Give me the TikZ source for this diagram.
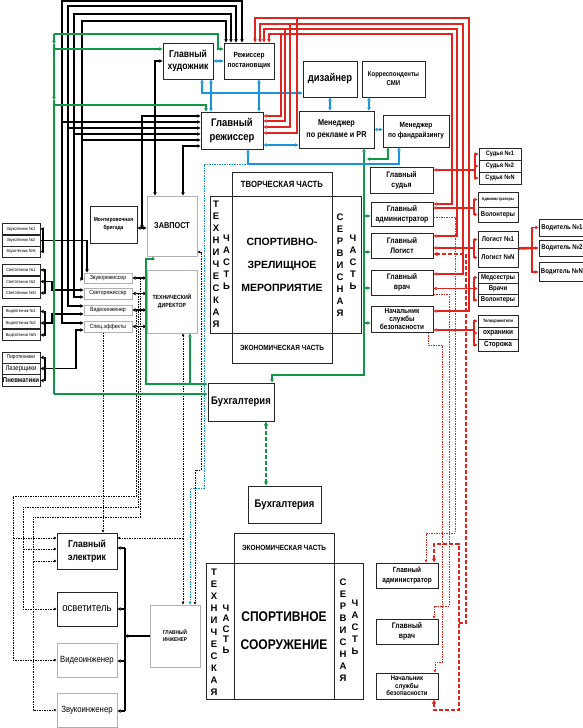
\documentclass[tikz,border=0pt]{standalone}
\usepackage{fontspec}
\setmainfont{Liberation Sans}[FakeStretch=0.86]
\newfontfamily\wide{Liberation Sans}
\usetikzlibrary{arrows.meta}
\definecolor{rd}{RGB}{226,36,30}
\definecolor{bl}{RGB}{22,150,220}
\definecolor{gn}{RGB}{18,150,72}
\newcommand{\fsz}[2]{\fontsize{#1}{#2}\selectfont}

\begin{document}
\begin{tikzpicture}[x=1pt,y=-1pt,
  box/.style={draw=black!85, line width=1pt, align=center, inner sep=0.5pt, font=\bfseries},
  gbox/.style={box, draw=black!30},
  vt/.style={align=center, inner sep=0pt, font=\wide\bfseries\fsz{9.5}{12}},
  ln/.style={line width=1.3pt, >={Triangle[length=3.2pt,width=3.4pt]}},
  blk/.style={ln, black},
  rdl/.style={ln, rd},
  bll/.style={ln, bl},
  gnl/.style={ln, gn},
  dsh/.style={line width=0.6pt, dash pattern=on 1.5pt off 1pt, >={Triangle[length=2.6pt,width=2.6pt]}},
  rdd/.style={rd, line width=1.8pt, dash pattern=on 4pt off 2pt, >={Triangle[length=4pt,width=4pt]}}]
\path[use as bounding box, fill=white] (0,0) rectangle (583,728);

\node[box, minimum width=50, minimum height=36, font=\bfseries\fsz{10}{12}] (gh) at (188,61) {Главный\\художник};
\node[box, minimum width=50, minimum height=36, font=\bfseries\fsz{7.5}{10}] (rp) at (249,61) {Режиссер\\постановщик};
\node[box, minimum width=54, minimum height=36, font=\bfseries\fsz{11}{13}] (dz) at (330,79) {дизайнер};
\node[box, minimum width=63, minimum height=36, font=\bfseries\fsz{7}{9}] (smi) at (393.5,79) {Корреспонденты\\СМИ};
\node[box, minimum width=62, minimum height=37, font=\bfseries\fsz{11}{14}] (gr) at (232,130.5) {Главный\\режиссер};
\node[box, minimum width=75, minimum height=37, font=\bfseries\fsz{8.5}{12}] (mpr) at (336.5,129.5) {Менеджер\\по рекламе и PR};
\node[box, minimum width=66, minimum height=32, font=\bfseries\fsz{7.5}{10}] (mf) at (416,131) {Менеджер\\по фандрайзингу};
\node[box, minimum width=63, minimum height=26, font=\bfseries\fsz{8}{10}] (gs) at (401.5,180) {Главный\\судья};
\node[box, minimum width=42, minimum height=12, font=\bfseries\fsz{6.5}{7}] (s1) at (500,154) {Судья №1};
\node[box, minimum width=42, minimum height=12, font=\bfseries\fsz{6.5}{7}] (s2) at (500,166) {Судья №2};
\node[box, minimum width=42, minimum height=12, font=\bfseries\fsz{6.5}{7}] (sN) at (500,178) {Судья №N};

\node[box, minimum width=100, minimum height=24, font=\bfseries\fsz{9}{10}] (tvor) at (282,184) {ТВОРЧЕСКАЯ ЧАСТЬ};
\node[box, minimum width=100, minimum height=137, font=\wide\bfseries\fsz{10.5}{23}] (sz) at (282,264.5) {СПОРТИВНО-\\ЗРЕЛИЩНОЕ\\МЕРОПРИЯТИЕ};
\node[box, minimum width=22, minimum height=137] (tech) at (221,264.5) {};
\node[box, minimum width=29, minimum height=137] (serv) at (346.5,264.5) {};
\node[box, minimum width=100, minimum height=30, font=\bfseries\fsz{7.5}{9}] (ekon) at (282,348) {ЭКОНОМИЧЕСКАЯ ЧАСТЬ};
\node[vt] (techa) at (216,264) {Т\\Е\\Х\\Н\\И\\Ч\\Е\\С\\К\\А\\Я};
\node[vt] (techb) at (226.5,262) {Ч\\А\\С\\Т\\Ь};
\node[vt] (serva) at (340,265) {С\\Е\\Р\\В\\И\\С\\Н\\А\\Я};
\node[vt] (servb) at (353,262) {Ч\\А\\С\\Т\\Ь};

\node[box, minimum width=62, minimum height=24, font=\bfseries\fsz{8}{10}] (ga) at (402,214) {Главный\\администратор};
\node[box, minimum width=62, minimum height=25, font=\bfseries\fsz{8}{10}] (gl) at (402,245.5) {Главный\\Логист};
\node[box, minimum width=62, minimum height=25, font=\bfseries\fsz{8}{10}] (gv) at (402,282.5) {Главный\\врач};
\node[box, minimum width=62, minimum height=26, font=\bfseries\fsz{7.5}{8}] (nb) at (402,319) {Начальник\\службы\\безопасности};

\node[box, minimum width=40, minimum height=15, font=\bfseries\fsz{4.3}{5}] (adm) at (498,199.5) {Администраторы};
\node[box, minimum width=40, minimum height=15, font=\bfseries\fsz{7}{8}] (vol1) at (498,214.5) {Волонтеры};
\node[box, minimum width=40, minimum height=17, font=\bfseries\fsz{7}{8}] (lg1) at (498,239.5) {Логист №1};
\node[box, minimum width=40, minimum height=19, font=\bfseries\fsz{7}{8}] (lgN) at (498,257.5) {Логист №N};
\node[box, minimum width=40, minimum height=11, font=\bfseries\fsz{7}{8}] (med) at (498,277.5) {Медсестры};
\node[box, minimum width=40, minimum height=11, font=\bfseries\fsz{7}{8}] (vr) at (498,288.5) {Врачи};
\node[box, minimum width=40, minimum height=12, font=\bfseries\fsz{7}{8}] (vol2) at (498,300) {Волонтеры};
\node[box, minimum width=40, minimum height=12, font=\bfseries\fsz{4.6}{5}] (tel) at (498,321) {Телохранители};
\node[box, minimum width=40, minimum height=12, font=\bfseries\fsz{7.5}{8}] (ohr) at (498,333) {охраники};
\node[box, minimum width=40, minimum height=12, font=\bfseries\fsz{7.5}{8}] (stor) at (498,345) {Сторожа};
\node[box, minimum width=46, minimum height=17, font=\bfseries\fsz{7}{8}] (vd1) at (562,227.5) {Водитель №1};
\node[box, minimum width=46, minimum height=16, font=\bfseries\fsz{7}{8}] (vd2) at (562,248) {Водитель №2};
\node[box, minimum width=46, minimum height=19, font=\bfseries\fsz{7}{8}] (vdN) at (562,272) {Водитель №N};

\node[box, minimum width=47, minimum height=37, font=\bfseries\fsz{5.8}{8}] (mb) at (113.5,224.5) {Монтировочная\\бригада};
\node[gbox, minimum width=50, minimum height=60, font=\bfseries\fsz{8.5}{10}] (zp) at (172,226) {ЗАВПОСТ};
\node[gbox, minimum width=50, minimum height=63, font=\bfseries\fsz{6}{8}] (td) at (172,301.5) {ТЕХНИЧЕСКИЙ\\ДИРЕКТОР};
\node[gbox, minimum width=48, minimum height=10, font=\fsz{6}{7}] (zr) at (108,278) {Звукорежиссер};
\node[gbox, minimum width=48, minimum height=11, font=\fsz{6}{7}] (sr) at (108,293.5) {Светорежиссер};
\node[gbox, minimum width=48, minimum height=10, font=\fsz{6}{7}] (vi) at (108,310) {Видеоинженер};
\node[gbox, minimum width=48, minimum height=11, font=\fsz{6}{7}] (se) at (108,326.5) {Спец.эффекты};
\node[box, minimum width=38, minimum height=11, font=\fsz{4.4}{5}] (zt1) at (21,229) {Звукотехник №1};
\node[box, minimum width=38, minimum height=11, font=\fsz{4.4}{5}] (zt2) at (21,240.5) {Звукотехник №2};
\node[box, minimum width=38, minimum height=11, font=\fsz{4.4}{5}] (zt3) at (21,251.5) {Звукотехник №N};
\node[box, minimum width=38, minimum height=11, font=\fsz{4.4}{5}] (st1) at (21,270) {Светотехник №1};
\node[box, minimum width=38, minimum height=11, font=\fsz{4.4}{5}] (st2) at (21,281.5) {Светотехник №2};
\node[box, minimum width=38, minimum height=11, font=\fsz{4.4}{5}] (st3) at (21,293) {Светотехник №N};
\node[box, minimum width=38, minimum height=11, font=\fsz{4.4}{5}] (vt1) at (21,311.5) {Видеотехник №1};
\node[box, minimum width=38, minimum height=11, font=\fsz{4.4}{5}] (vt2) at (21,323) {Видеотехник №2};
\node[box, minimum width=38, minimum height=11, font=\fsz{4.4}{5}] (vt3) at (21,335) {Видеотехник №N};
\node[box, minimum width=38, minimum height=11, font=\fsz{5.5}{6}] (pir) at (21,357.5) {Пиротехники};
\node[box, minimum width=38, minimum height=11, font=\fsz{7}{8}] (laz) at (21,368.5) {Лазерщики};
\node[box, minimum width=38, minimum height=12, font=\bfseries\fsz{7}{8}] (pnv) at (21,380.5) {Пневматики};

\node[box, minimum width=66, minimum height=38, font=\bfseries\fsz{11}{13}] (bu1) at (241,402) {Бухгалтерия};
\node[box, minimum width=73, minimum height=37, font=\bfseries\fsz{11}{13}] (bu2) at (284.5,504.5) {Бухгалтерия};

\node[box, minimum width=100, minimum height=30, font=\bfseries\fsz{7.5}{9}] (ekon2) at (284,548) {ЭКОНОМИЧЕСКАЯ ЧАСТЬ};
\node[box, minimum width=100, minimum height=136, font=\bfseries\fsz{14}{28}] (ss) at (284,631) {СПОРТИВНОЕ\\СООРУЖЕНИЕ};
\node[box, minimum width=28, minimum height=136] (tech2) at (220,631) {};
\node[box, minimum width=29, minimum height=136] (serv2) at (348.5,631) {};
\node[vt] (tech2a) at (214,632) {Т\\Е\\Х\\Н\\И\\Ч\\Е\\С\\К\\А\\Я};
\node[vt, font=\wide\bfseries\fsz{9.5}{10.5}] (tech2b) at (226,629) {Ч\\А\\С\\Т\\Ь};
\node[vt] (serv2a) at (343,630.5) {С\\Е\\Р\\В\\И\\С\\Н\\А\\Я};
\node[vt] (serv2b) at (355,627.5) {Ч\\А\\С\\Т\\Ь};

\node[box, minimum width=62, minimum height=25, font=\bfseries\fsz{7.5}{10}] (ga2) at (407,575.5) {Главный\\администратор};
\node[box, minimum width=62, minimum height=25, font=\bfseries\fsz{8}{10}] (gv2) at (407,631.5) {Главный\\врач};
\node[box, minimum width=62, minimum height=26, font=\bfseries\fsz{7}{7.5}] (nb2) at (407,686) {Начальник\\службы\\безопасности};

\node[box, minimum width=60, minimum height=36, font=\bfseries\fsz{10}{13}] (ge) at (87,551) {Главный\\электрик};
\node[box, minimum width=60, minimum height=34, font=\fsz{11}{12}] (osv) at (87,609) {осветитель};
\node[gbox, minimum width=60, minimum height=34, font=\fsz{9}{10}] (vin) at (87,660) {Видеоинженер};
\node[gbox, minimum width=60, minimum height=34, font=\fsz{9}{10}] (zin) at (87,710) {Звукоинженер};
\node[gbox, minimum width=50, minimum height=62, font=\bfseries\fsz{5.5}{7}] (gi) at (175,636) {ГЛАВНЫЙ\\ИНЖЕНЕР};

\foreach \xr/\yt/\xl/\yb in {242/1/62/323, 236/6/68/306, 231/14/74/297, 226/21/82/279}
  \draw[blk,<->] (rp.north -| \xr,0) -- (\xr,\yt) -- (\xl,\yt) -- (\xl,\yb) -- (zr.west |- 0,\yb);
\foreach \xl/\yy in {62/122, 68/128, 74/134, 82/140}
  \draw[blk,->] (\xl,\yy) -- (gr.west |- 0,\yy);
\draw[blk,<->] (gr.west |- 0,116) -- (142,116) -- (142,228);
\draw[blk,<->] (mb.east |- 0,228) -- (zp.west |- 0,228);
\draw[blk,<->] (gr.west |- 0,146) -- (183,146) -- (zp.north -| 183,0);
\draw[blk,<->] (gh.west) -- (155,61) -- (zp.north -| 155,0);
\draw[blk,<->] (zt1.east) -- (43,0 |- zt1.east) -- (43,0 |- zt3.east) -- (zt3.east);
\draw[blk,<->] (zt2.east) -- (87,0 |- zt2.east) -- (zr.north -| 87,0);
\draw[blk,<->] (st1.east) -- (45,0 |- st1.east) -- (45,0 |- st3.east) -- (st3.east);
\draw[blk,<->] (st2.east) -- (52,0 |- st2.east) -- (52,290) -- (sr.west |- 0,290);
\draw[blk,<->] (vt1.east) -- (45,0 |- vt1.east) -- (45,0 |- vt3.east) -- (vt3.east);
\draw[blk,<->] (vt2.east) -- (52,0 |- vt2.east) -- (52,314) -- (vi.west |- 0,314);
\draw[blk,<->] (pir.east) -- (45,0 |- pir.east) -- (45,0 |- pnv.east) -- (pnv.east);
\draw[blk,<->] (laz.east) -- (76,0 |- laz.east) -- (76,330) -- (se.west |- 0,330);
\foreach \n in {zr,sr,vi,se}
  \draw[blk,<->] (\n.east) -- (td.west |- \n.east);
\draw[blk,->] (gi.west) -- (125,0 |- gi.west);
\draw[blk] (125,548) -- (125,711);
\foreach \n/\yy in {ge/548, osv/609, vin/661, zin/711}
  \draw[blk,->] (125,\yy) -- (\n.east |- 0,\yy);

\draw[dsh,<->] (zp.east |- 0,252) -- (201,252) -- (201,470) -- (195,470) -- (gi.north -| 195,0);
\draw[dsh,<->] (td.south -| 183,0) -- (gi.north -| 183,0);
\draw[dsh,->] (183,538) -- (ge.east |- 0,538);
\draw[dsh,->] (se.south -| 103,0) -- (ge.north -| 103,0);
\draw[dsh,->] (136,310) -- (136,496) -- (13,496) -- (13,0 |- vin.west) -- (vin.west);
\draw[dsh,->] (13,538) -- (ge.west |- 0,538);
\draw[dsh,->] (138,293.5) -- (138,507) -- (23,507) -- (23,0 |- osv.west) -- (osv.west);
\draw[dsh,->] (23,549) -- (ge.west |- 0,549);
\draw[dsh,->] (140,278) -- (140,517) -- (33,517) -- (33,0 |- zin.west) -- (zin.west);
\draw[dsh,->] (33,561) -- (ge.west |- 0,561);

\draw[gnl,->] (54,34) -- (218,34) -- (218,49) -- (rp.west |- 0,49);
\draw[gnl,->] (54,34) -- (54,44);
\draw[gnl,->] (54,44) -- (54,100);
\draw[gnl] (54,100) -- (54,394);
\draw[gnl,->] (54,49) -- (gh.west |- 0,49);
\draw[gnl,->] (54,105) -- (206,105) -- (gr.north -| 206,0);
\draw[gnl,->] (54,394) -- (bu1.west |- 0,394);
\draw[gnl,<->] (zp.south -| 153,0) -- (153,259) -- (146,259) -- (146,384) -- (bu1.west |- 0,384);
\draw[gnl,<-] (td.south -| 190,0) -- (190,384);
\draw[gnl,<->] (mpr.south -| 364,0) -- (364,375) -- (272,375) -- (bu1.north -| 272,0);
\foreach \n/\yy in {ga/216, gl/252, gv/288, nb/323}
  \draw[gnl,->] (364,\yy) -- (\n.west |- 0,\yy);
\draw[gnl,<->] (mf.south -| 388,0) -- (388,159) -- (367,159);
\draw[gn, line width=1.8pt, dash pattern=on 4pt off 2pt, <->, >={Triangle[length=4pt,width=4pt]}] (bu1.south -| 266,0) -- (bu2.north -| 266,0);

\draw[bll,<->] (gh.east) -- (rp.west);
\draw[bll,<->] (gh.south -| 202,0) -- (202,93) -- (dz.west |- 0,93);
\draw[bll,<->] (gh.south -| 211,0) -- (gr.north -| 211,0);
\draw[bll,<->] (rp.south -| 259,0) -- (gr.north -| 259,0);
\draw[bll,<->] (dz.south) -- (mpr.north -| dz.south);
\draw[bll,<->] (smi.south -| 369,0) -- (mpr.north -| 369,0);
\draw[bll,<->] (mpr.east) -- (mf.west |- mpr.east);
\draw[bll,<->] (gr.east |- 0,145) -- (mpr.west |- 0,145);
\draw[bll,<->] (gr.south -| 248,0) -- (248,164) -- (399,164) -- (mf.south -| 399,0);
\draw[bl,dsh,->] (248,164) -- (204,164) -- (204,488) -- (190,488) -- (gi.north -| 190,0);

\foreach \xa/\yt/\xb/\n/\yy in {255/18/469/nb/311, 260/24/463/gv/274, 264/29/457/gl/236, 269/34/452/ga/204}
  \draw[rdl,<->] (rp.north -| \xa,0) -- (\xa,\yt) -- (\xb,\yt) -- (\xb,\yy) -- (\n.east |- 0,\yy);
\foreach \xc/\yt/\yy in {281/34/116, 285/29/121, 290/24/127, 297/18/133}
  \draw[rdl,->] (\xc,\yt) -- (\xc,\yy) -- (gr.east |- 0,\yy);
\draw[rdl,<->] (s1.west) -- (475,0 |- s1.west) -- (475,0 |- sN.west) -- (sN.west);
\draw[rdl,->] (475,0 |- s2.west) -- (s2.west);
\draw[rdl,->] (475,170) -- (gs.east |- 0,170);
\draw[rdl,<->] (adm.west) -- (474,0 |- adm.west) -- (474,0 |- vol1.west) -- (vol1.west);
\draw[rdl,->] (474,208) -- (ga.east |- 0,208);
\draw[rdl,<->] (lg1.west) -- (474,0 |- lg1.west) -- (474,0 |- lgN.west) -- (lgN.west);
\draw[rdl,->] (474,248) -- (gl.east |- 0,248);
\draw[rdl,<->] (med.west) -- (474,0 |- med.west) -- (474,0 |- vol2.west) -- (vol2.west);
\draw[rdl,->] (474,0 |- vr.west) -- (vr.west);
\draw[rdl,->] (474,288.5) -- (gv.east |- 0,288.5);
\draw[rdl,<->] (tel.west) -- (474,0 |- tel.west) -- (474,0 |- stor.west) -- (stor.west);
\draw[rdl,->] (474,0 |- ohr.west) -- (ohr.west);
\draw[rdl,->] (474,330) -- (nb.east |- 0,330);
\draw[rd, line width=2.6pt] (lg1.south east) -- (532,248);
\draw[rdl,<->] (vd1.west) -- (532,0 |- vd1.west) -- (532,0 |- vdN.west) -- (vdN.west);
\draw[rdl,->] (532,0 |- vd2.west) -- (vd2.west);

\draw[rd,dsh,->] (ga.east |- 0,217) -- (455,217) -- (455,533) -- (426,533) -- (ga2.north -| 426,0);
\draw[rd,dsh,->] (gv.east |- 0,294) -- (449,294) -- (449,606) -- (434,606) -- (gv2.north -| 434,0);
\draw[rd,dsh,->] (nb.south -| 428,0) -- (428,345) -- (442,345) -- (442,662) -- (435,662) -- (nb2.north -| 435,0);
\draw[rdd,->] (459,623) -- (466,623) -- (466,254) -- (gl.east |- 0,254);
\draw[rdd,<->] (ga2.north -| 434,0) -- (434,544) -- (459,544) -- (459,710) -- (434,710) -- (nb2.south -| 434,0);
\end{tikzpicture}
\end{document}
